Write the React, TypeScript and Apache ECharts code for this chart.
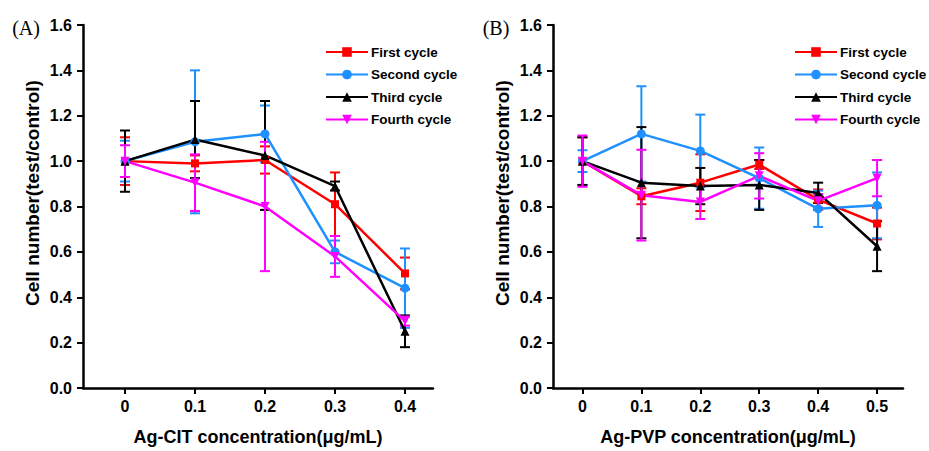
import React, { useEffect, useRef } from "react";
import * as echarts from "echarts";

const seriesNames = ["First cycle", "Second cycle", "Third cycle", "Fourth cycle"];
const seriesColors = ["#ff0000", "#1e90ff", "#000000", "#ff00ff"];
const seriesSymbols = ["rect", "circle", "triangle", "triangle"];
const seriesRotate = [0, 0, 0, 180];

const xA = [0, 0.1, 0.2, 0.3, 0.4];
const firstA = [1.0, 0.99, 1.005, 0.81, 0.505];
const firstAErr = [0.105, 0.035, 0.06, 0.14, 0.07];
const secondA = [1.0, 1.085, 1.12, 0.6, 0.44];
const secondAErr = [0.09, 0.315, 0.125, 0.05, 0.175];
const thirdA = [1.0, 1.095, 1.025, 0.89, 0.25];
const thirdAErr = [0.135, 0.17, 0.24, 0.02, 0.07];
const fourthA = [1.0, 0.905, 0.8, 0.58, 0.295];
const fourthAErr = [0.07, 0.125, 0.285, 0.09, 0.02];

const xB = [0, 0.1, 0.2, 0.3, 0.4, 0.5];
const firstB = [1.0, 0.845, 0.905, 0.985, 0.83, 0.725];
const firstBErr = [0.105, 0.035, 0.125, 0.02, 0.045, 0.07];
const secondB = [1.0, 1.12, 1.045, 0.925, 0.79, 0.805];
const secondBErr = [0.048, 0.21, 0.16, 0.135, 0.08, 0.145];
const thirdB = [1.0, 0.905, 0.89, 0.895, 0.86, 0.625];
const thirdBErr = [0.105, 0.245, 0.08, 0.11, 0.045, 0.11];
const fourthB = [1.0, 0.85, 0.82, 0.935, 0.825, 0.925];
const fourthBErr = [0.113, 0.2, 0.075, 0.1, 0.03, 0.08];

const valuesA = [firstA, secondA, thirdA, fourthA];
const errsA = [firstAErr, secondAErr, thirdAErr, fourthAErr];
const valuesB = [firstB, secondB, thirdB, fourthB];
const errsB = [firstBErr, secondBErr, thirdBErr, fourthBErr];

const FONT = "Liberation Sans, Arial, sans-serif";

function buildSeries(xs: number[], vals: number[][], errs: number[][], axisIndex: number) {
  const out: any[] = [];
  vals.forEach((v, i) => {
    const color = seriesColors[i];
    out.push({
      type: "custom",
      name: seriesNames[i] + " err " + axisIndex,
      xAxisIndex: axisIndex,
      yAxisIndex: axisIndex,
      silent: true,
      z: 2,
      data: xs.map((x, j) => [x, v[j] - errs[i][j], v[j] + errs[i][j]]),
      encode: { x: 0, y: [1, 2] },
      renderItem: (params: any, api: any) => {
        const x = api.value(0);
        const lo = api.value(1);
        const hi = api.value(2);
        const p1 = api.coord([x, hi]);
        const p2 = api.coord([x, lo]);
        const hw = 5;
        const style = { stroke: color, lineWidth: 2 };
        return {
          type: "group",
          children: [
            { type: "line", shape: { x1: p1[0], y1: p1[1], x2: p2[0], y2: p2[1] }, style },
            { type: "line", shape: { x1: p1[0] - hw, y1: p1[1], x2: p1[0] + hw, y2: p1[1] }, style },
            { type: "line", shape: { x1: p2[0] - hw, y1: p2[1], x2: p2[0] + hw, y2: p2[1] }, style },
          ],
        };
      },
    });
    out.push({
      type: "line",
      name: seriesNames[i],
      xAxisIndex: axisIndex,
      yAxisIndex: axisIndex,
      z: 3,
      data: xs.map((x, j) => [x, v[j]]),
      symbol: seriesSymbols[i],
      symbolRotate: seriesRotate[i],
      symbolSize: i === 0 ? 8 : 9,
      lineStyle: { color, width: 2.5 },
      itemStyle: { color },
    });
  });
  return out;
}

function xAxisDef(ticks: number[], min: number, max: number, name: string, gridIndex: number) {
  return {
    type: "value",
    gridIndex,
    min,
    max,
    name,
    nameLocation: "middle",
    nameGap: 40,
    nameTextStyle: { fontFamily: FONT, fontWeight: "bold", fontSize: 18, color: "#000" },
    axisLine: { show: true, onZero: false, lineStyle: { color: "#000", width: 2.5 } },
    axisTick: { show: true, inside: false, length: 6, lineStyle: { color: "#000", width: 2 }, customValues: ticks },
    axisLabel: {
      customValues: ticks,
      margin: 10,
      fontFamily: FONT,
      fontWeight: "bold",
      fontSize: 16,
      color: "#000",
      formatter: (v: number) => (Math.abs(v) < 1e-9 ? "0" : v.toFixed(1)),
    },
    splitLine: { show: false },
  };
}

function yAxisDef(gridIndex: number) {
  return {
    type: "value",
    gridIndex,
    min: 0,
    max: 1.6,
    interval: 0.2,
    axisLine: { show: true, onZero: false, lineStyle: { color: "#000", width: 2.5 } },
    axisTick: { show: true, inside: false, length: 6, lineStyle: { color: "#000", width: 2 } },
    axisLabel: {
      margin: 11,
      fontFamily: FONT,
      fontWeight: "bold",
      fontSize: 16,
      color: "#000",
      formatter: (v: number) => v.toFixed(1),
    },
    splitLine: { show: false },
  };
}

function legendDef(left: number) {
  return {
    orient: "vertical",
    left,
    top: 45,
    padding: 0,
    itemGap: 8.5,
    itemWidth: 42,
    itemHeight: 12,
    data: seriesNames,
    textStyle: { fontFamily: FONT, fontWeight: "bold", fontSize: 13.5, color: "#000", padding: [0, 0, 0, -2] },
    selectedMode: false,
  };
}

export default function App() {
  const ref = useRef<HTMLDivElement>(null);
  useEffect(() => {
    if (!ref.current) return;
    const chart = echarts.init(ref.current, null, { renderer: "svg" });
    const yNameStyle = { font: "bold 19px " + FONT, fill: "#000", textAlign: "center", textVerticalAlign: "middle" };
    const panelFont = "20px 'Liberation Serif', 'DejaVu Serif', serif";
    chart.setOption({
      animation: false,
      backgroundColor: "#fff",
      grid: [
        { left: 83, top: 25, width: 350, height: 363 },
        { left: 553, top: 25, width: 350, height: 363 },
      ],
      xAxis: [
        xAxisDef(xA, -0.06, 0.44, "Ag-CIT concentration(μg/mL)", 0),
        xAxisDef(xB, -0.05, 0.544, "Ag-PVP concentration(μg/mL)", 1),
      ],
      yAxis: [yAxisDef(0), yAxisDef(1)],
      legend: [legendDef(325), legendDef(794)],
      graphic: [
        { type: "text", x: 32, y: 193, rotation: Math.PI / 2, style: { ...yNameStyle, text: "Cell number(test/control)" } },
        { type: "text", x: 502, y: 193, rotation: Math.PI / 2, style: { ...yNameStyle, text: "Cell number(test/control)" } },
        { type: "text", x: 26, y: 28, style: { text: "(A)", font: panelFont, fill: "#000", textAlign: "center", textVerticalAlign: "middle" } },
        { type: "text", x: 496, y: 28, style: { text: "(B)", font: panelFont, fill: "#000", textAlign: "center", textVerticalAlign: "middle" } },
      ],
      series: [...buildSeries(xA, valuesA, errsA, 0), ...buildSeries(xB, valuesB, errsB, 1)],
    });
    return () => chart.dispose();
  }, []);
  return <div ref={ref} style={{ position: "fixed", left: 0, top: 0, width: 929, height: 451 }} />;
}
